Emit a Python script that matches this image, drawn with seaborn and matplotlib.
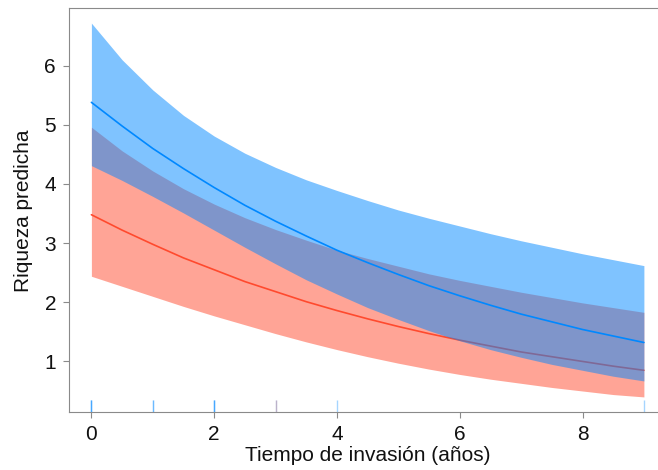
import numpy as np
import pandas as pd
import matplotlib
matplotlib.use("Agg")
import matplotlib.pyplot as plt
import seaborn as sns

# ---- data ----
tiempo = [0, 0.5, 1, 1.5, 2, 2.5, 3, 3.5, 4, 4.5,
          5, 5.5, 6, 6.5, 7, 7.5, 8, 8.5, 9]

azul_pred = [5.38, 4.98, 4.60, 4.26, 3.94, 3.64, 3.37, 3.12, 2.88, 2.67,
             2.47, 2.28, 2.11, 1.95, 1.80, 1.67, 1.54, 1.43, 1.32]
azul_inf = [4.31, 4.06, 3.79, 3.51, 3.22, 2.93, 2.65, 2.38, 2.14, 1.91,
            1.71, 1.52, 1.35, 1.20, 1.07, 0.95, 0.85, 0.75, 0.67]
azul_sup = [6.72, 6.10, 5.59, 5.16, 4.81, 4.52, 4.28, 4.07, 3.89, 3.72,
            3.56, 3.42, 3.29, 3.16, 3.04, 2.93, 2.82, 2.72, 2.62]

rojo_pred = [3.48, 3.22, 2.98, 2.75, 2.55, 2.35, 2.18, 2.01, 1.86, 1.72,
             1.59, 1.47, 1.36, 1.26, 1.16, 1.08, 1.00, 0.92, 0.85]
rojo_inf = [2.44, 2.27, 2.10, 1.93, 1.77, 1.62, 1.47, 1.33, 1.20, 1.08,
            0.97, 0.87, 0.78, 0.70, 0.63, 0.56, 0.50, 0.44, 0.40]
rojo_sup = [4.96, 4.56, 4.22, 3.92, 3.66, 3.43, 3.23, 3.05, 2.88, 2.74,
            2.61, 2.48, 2.37, 2.27, 2.17, 2.08, 1.99, 1.91, 1.83]

rug_azul = [0, 0, 0, 1, 1, 2, 2, 2, 3, 4, 9]
rug_rojo = [3]

x_ticks = [0, 2, 4, 6, 8]
y_ticks = [1, 2, 3, 4, 5, 6]
x_label = "Tiempo de invasión (años)"
y_label = "Riqueza predicha"

# ---- styling ----
sns.set_theme(style="white")
plt.rcParams["font.family"] = ["Liberation Sans", "DejaVu Sans"]

c_azul = "#0088FF"
c_rojo = "#FF4A2E"
c_marco = "#8A8A8A"

fig = plt.figure(figsize=(6.58, 4.70), dpi=100)
W, H = 658, 470
left_px, right_px, top_px, bot_px = 69.3, 666.0, 8.3, 412.3
ax = fig.add_axes([left_px / W, 1 - bot_px / H,
                   (right_px - left_px) / W, (bot_px - top_px) / H])

df_r = pd.DataFrame({"x": tiempo, "y": rojo_pred})
df_a = pd.DataFrame({"x": tiempo, "y": azul_pred})

ax.fill_between(tiempo, rojo_inf, rojo_sup, color=c_rojo, alpha=0.5,
                lw=0, zorder=1)
sns.lineplot(data=df_r, x="x", y="y", ax=ax, color=c_rojo, lw=1.2,
             zorder=2)
ax.fill_between(tiempo, azul_inf, azul_sup, color=c_azul, alpha=0.5,
                lw=0, zorder=3)
sns.lineplot(data=df_a, x="x", y="y", ax=ax, color=c_azul, lw=1.2,
             zorder=4)

rug_h = 12 / (bot_px - top_px)
sns.rugplot(x=rug_azul, ax=ax, height=rug_h, color=c_azul, alpha=0.35,
            lw=0.9, zorder=5)
sns.rugplot(x=rug_rojo, ax=ax, height=rug_h, color=c_rojo, alpha=0.25,
            lw=0.9, zorder=5)

ax.set_xlim(-0.36, 9.36)
ax.set_ylim(0.14, 6.97)
ax.set_xticks(x_ticks)
ax.set_yticks(y_ticks)

for s in ax.spines.values():
    s.set_color(c_marco)
    s.set_linewidth(0.8)
    s.set_visible(True)

ax.tick_params(axis="both", which="major", direction="out", length=4.5,
               width=0.8, color=c_marco, labelsize=15, pad=5,
               labelcolor="#111111", bottom=True, left=True)
ax.set_xlabel(x_label, fontsize=15, color="#111111", labelpad=1)
ax.set_ylabel(y_label, fontsize=15, color="#111111", labelpad=8)
ax.grid(False)

fig.savefig("out.png", dpi=100)
